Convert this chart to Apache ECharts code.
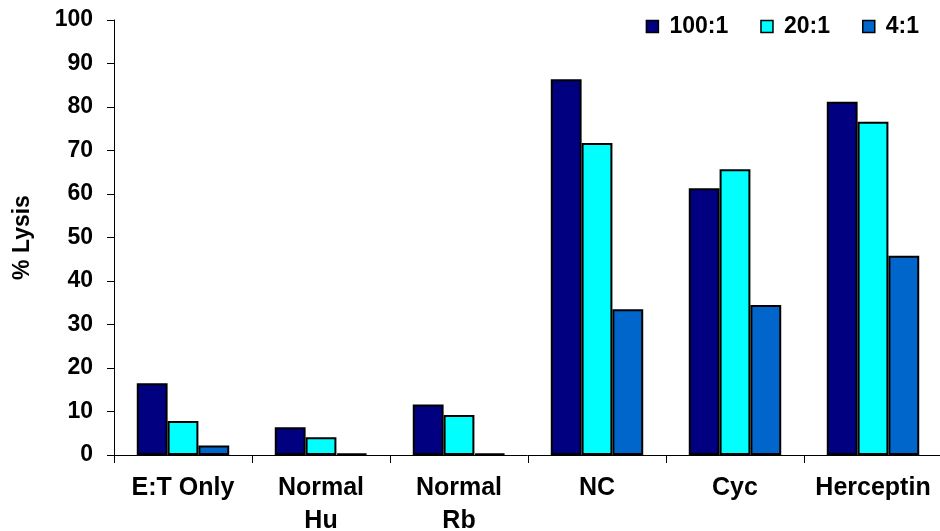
<!DOCTYPE html>
<html><head><meta charset="utf-8">
<script src="https://cdn.jsdelivr.net/npm/echarts@6/dist/echarts.min.js"></script>
<style>html,body{margin:0;padding:0;background:#fff}#c{width:940px;height:531px}</style>
</head><body><div id="c"></div>
<script>
var categories = ['E:T Only', 'Normal\nHu', 'Normal\nRb', 'NC', 'Cyc', 'Herceptin'];
var s100 = [16.5, 6.4, 11.6, 86.4, 61.3, 81.2];
var s20 = [7.8, 4.1, 9.2, 71.7, 65.7, 76.6];
var s4 = [2.2, 0.3, 0.3, 33.5, 34.5, 45.8];
var yTicks = [0, 10, 20, 30, 40, 50, 60, 70, 80, 90, 100];
var seriesNames = ['100:1', '20:1', '4:1'];
var colors = ['#000080', '#00FFFF', '#0066CC'];

var font = 'Liberation Sans, Arial, sans-serif';
var chart = echarts.init(document.getElementById('c'));
var data = [s100, s20, s4];
chart.setOption({
  animation: false,
  grid: {left: 114, top: 20, width: 828, height: 435, outerBoundsMode: 'none', containLabel: false},
  legend: {
    top: 10, right: 16, itemWidth: 12, itemHeight: 12, itemGap: 32,
    icon: 'rect',
    textStyle: {fontFamily: font, fontWeight: 'bold', fontSize: 23, color: '#000', padding: [0, 0, 0, 6]},
    data: seriesNames.map(function (n, i) {
      return {name: n, itemStyle: {color: colors[i], borderColor: '#000', borderWidth: 1.5}};
    })
  },
  xAxis: {
    type: 'category', data: categories,
    axisLine: {lineStyle: {color: '#000', width: 1}},
    axisTick: {show: true, length: 8, alignWithLabel: false, lineStyle: {color: '#000'}},
    axisLabel: {fontFamily: font, fontWeight: 'bold', fontSize: 25, color: '#000', margin: 17, lineHeight: 33, interval: 0}
  },
  yAxis: {
    type: 'value', min: yTicks[0], max: yTicks[yTicks.length - 1], interval: 10,
    name: '% Lysis', nameLocation: 'middle', nameGap: 80, nameRotate: 90,
    nameTextStyle: {fontFamily: font, fontWeight: 'bold', fontSize: 23, color: '#000'},
    axisLine: {show: true, lineStyle: {color: '#000', width: 1}},
    axisTick: {show: true, length: 7, lineStyle: {color: '#000'}},
    splitLine: {show: false},
    axisLabel: {fontFamily: font, fontWeight: 'bold', fontSize: 23, color: '#000', margin: 21}
  },
  series: seriesNames.map(function (n, i) {
    return {
      name: n, type: 'bar', data: data[i],
      barGap: '0%', barCategoryGap: '33%',
      itemStyle: {color: colors[i], borderColor: '#000', borderWidth: 2}
    };
  })
});
</script></body></html>
